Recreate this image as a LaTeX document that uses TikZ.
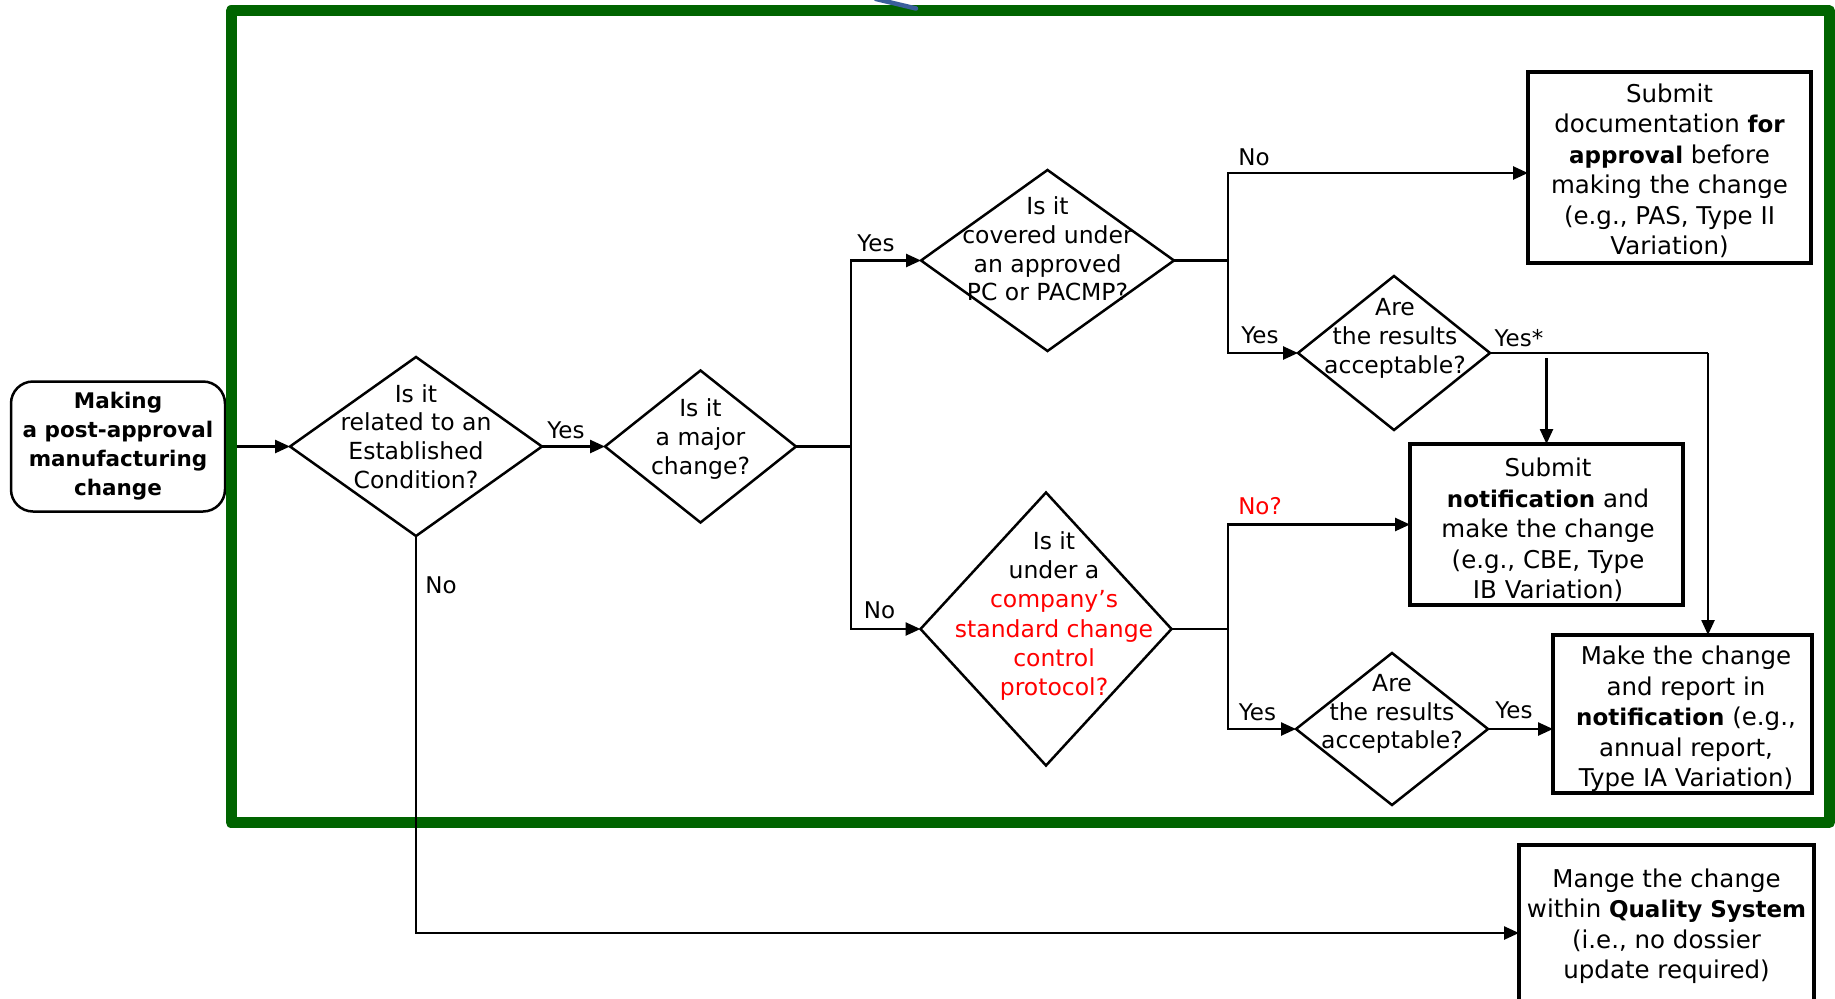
\documentclass[tikz,border=0pt]{standalone}
\usepackage{fontspec}
\setmainfont{DejaVu Sans}
\usetikzlibrary{shapes.geometric,arrows.meta,calc}
\definecolor{frameg}{RGB}{0,100,0}
\definecolor{artblue}{RGB}{58,95,155}
\newcommand{\bword}[1]{{\bfseries\fontsize{23}{30.5}\selectfont #1}}
\begin{document}
\begin{tikzpicture}[x=1pt,y=-1pt,
  dia/.style={draw, diamond, line width=2.5pt, inner sep=0pt, outer sep=0pt},
  dtext/.style={align=center, inner sep=0pt, font=\fontsize{23.5}{28.8}\selectfont},
  startbox/.style={draw, rounded corners=22pt, line width=2.5pt, inner sep=0pt, outer sep=0pt,
     minimum width=214pt, minimum height=130pt, align=center, font=\bfseries\fontsize{21.5}{29}\selectfont},
  box/.style={draw, line width=3.5pt, inner sep=0pt, outer sep=0pt, align=center,
     font=\fontsize{24.5}{30.5}\selectfont},
  lbl/.style={inner sep=0pt, font=\fontsize{23}{28}\selectfont},
  conn/.style={line width=2.5pt},
  arr/.style={line width=2.5pt, -{Triangle[length=15pt,width=13pt]}},
  frame/.style={draw=frameg, line width=11pt, line join=round}
]
\useasboundingbox (0,0) rectangle (1835,998);
\clip (0,0) rectangle (1835,998);

% start
\node[startbox] (start) at (118,446.5) {Making\\a post-approval\\manufacturing\\change};

% diamonds
\node[dia, minimum width=252pt, minimum height=179pt] (d1) at (416,446.5) {};
\node[dtext] (d1t) at (416,436.5) {Is it\\related to an\\Established\\Condition?};

\node[dia, minimum width=191pt, minimum height=152pt] (d2) at (700.5,446.5) {};
\node[dtext] (d2t) at (700.5,439) {Is it\\a major\\change?};

\node[dia, minimum width=253pt, minimum height=181pt] (d3) at (1047.5,260.5) {};
\node[dtext] (d3t) at (1047.5,249) {Is it\\covered under\\an approved\\PC or PACMP?};

\node[dia, minimum width=251pt, minimum height=273pt] (d4) at (1046,629) {};
\node[dtext, font=\fontsize{23.5}{29.2}\selectfont] (d4t) at (1054,616) {Is it\\under a\\\textcolor{red}{company’s}\\\textcolor{red}{standard change}\\\textcolor{red}{control}\\\textcolor{red}{protocol?}};

\node[dia, minimum width=192pt, minimum height=154pt] (d5) at (1394,353) {};
\node[dtext] (d5t) at (1395,338.5) {Are\\the results\\acceptable?};

\node[dia, minimum width=192pt, minimum height=152pt] (d6) at (1392,729) {};
\node[dtext] (d6t) at (1392,714) {Are\\the results\\acceptable?};

% boxes
\node[box, minimum width=283pt, minimum height=191pt] (A) at (1669.5,167.5) {};
\node[box, draw=none, line width=0pt] (At) at (1669.5,171)
  {Submit\\documentation \bword{for}\\\bword{approval} before\\making the change\\(e.g., PAS, Type II\\Variation)};
\node[box, minimum width=273pt, minimum height=161pt] (B) at (1546.5,524.5) {};
\node[box, draw=none, line width=0pt] (Bt) at (1548,530)
  {Submit\\\bword{notification} and\\make the change\\(e.g., CBE, Type\\IB Variation)};
\node[box, minimum width=259pt, minimum height=158pt] (C) at (1682.5,714) {};
\node[box, draw=none, line width=0pt] (Ct) at (1686,719)
  {Make the change\\and report in\\\bword{notification} (e.g.,\\annual report,\\Type IA Variation)};
\node[box, minimum width=295pt, minimum height=160pt] (D) at (1666.5,925) {};
\node[box, draw=none, line width=0pt] (Dt) at (1666.5,926)
  {Mange the change\\within \bword{Quality System}\\(i.e., no dossier\\update required)};

% start arrow (under the frame)
\draw[arr] (start.east) -- (d1.west);

% green frame
\draw[frame] (231,11) rectangle (1829.5,822.5);
\draw[artblue, line width=4.5pt, line cap=round] (876,-1) -- (916,8.5);

% connectors
\draw[arr] (d1.east) -- (d2.west);
\coordinate (j1) at (851,446.5);
\draw[conn] (d2.east) -- (j1);
\draw[arr] (j1) |- (d3.west);
\draw[arr] (j1) |- (d4.west);

\coordinate (j2) at (1228,260.5);
\draw[conn] (d3.east) -- (j2);
\draw[arr] (j2) |- ($(A.west)+(0,5.5)$);
\draw[arr] (j2) |- (d5.west);

\coordinate (c5) at (1708,353);
\draw[conn] (d5.east) -- (c5);
\draw[arr] (c5) -- (c5 |- C.north);
\draw[arr] ($(d5.east -| B.north)+(0,5)$) -- (B.north);

\coordinate (j3) at (1228,629);
\draw[conn] (d4.east) -- (j3);
\draw[arr] (j3) |- (B.west);
\draw[arr] (j3) |- (d6.west);
\draw[arr] (d6.east) -- (d6.east -| C.west);

\coordinate (dc) at (416,933);
\draw[arr] (d1.south) -- (dc) -- (dc -| D.west);

% labels
\node[lbl] (l1) at (566,430) {Yes};
\node[lbl] (l2) at (876,243) {Yes};
\node[lbl] (l3) at (879.5,610) {No};
\node[lbl] (l4) at (1254,157) {No};
\node[lbl] (l5) at (1260,335) {Yes};
\node[lbl] (l6) at (1519,338) {Yes*};
\node[lbl, text=red] (l7) at (1260,506) {No?};
\node[lbl] (l8) at (1257.5,712) {Yes};
\node[lbl] (l9) at (1514,710) {Yes};
\node[lbl] (l10) at (441,585) {No};
\end{tikzpicture}
\end{document}
